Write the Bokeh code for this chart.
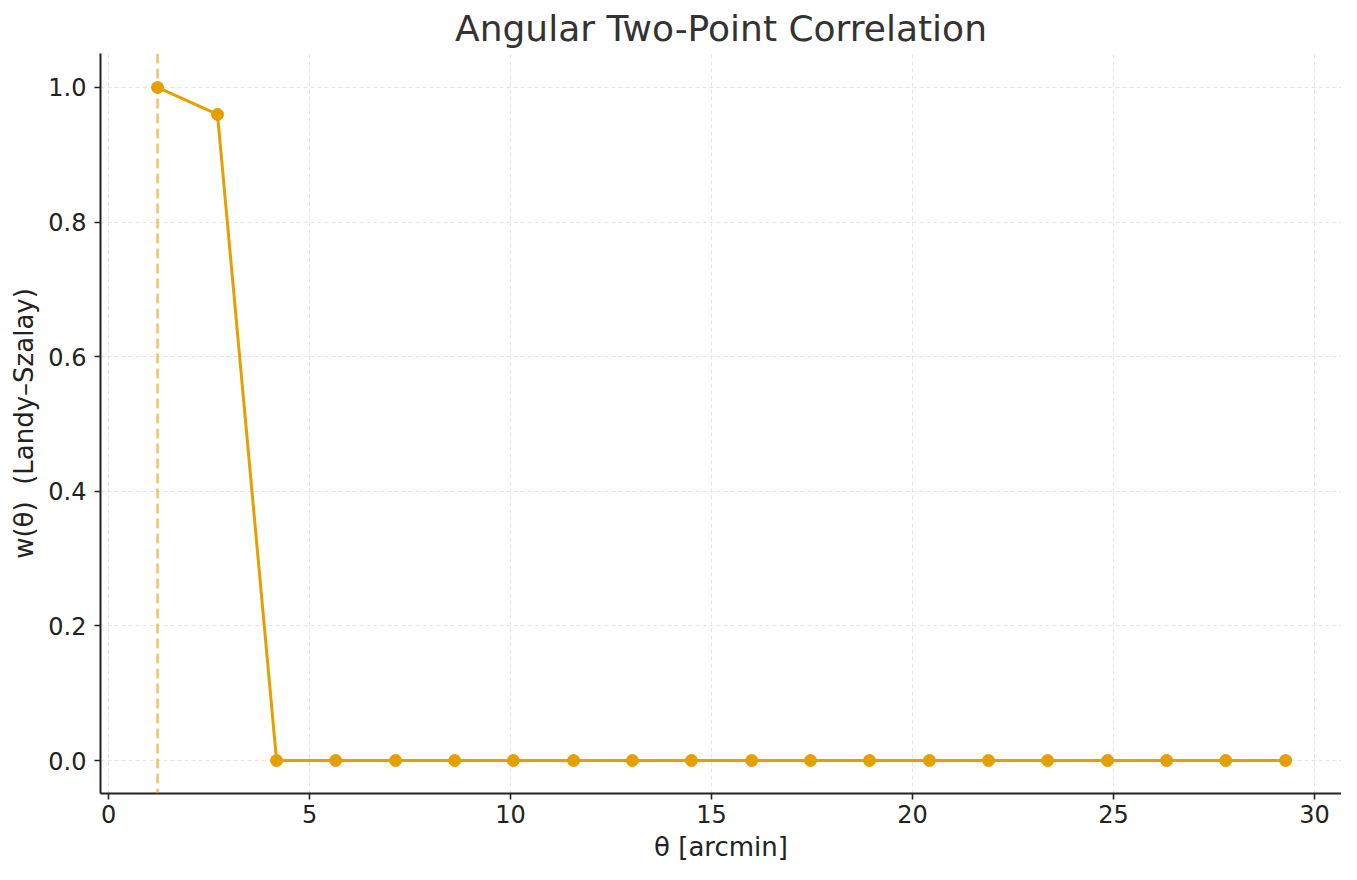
from bokeh.plotting import figure
from bokeh.models import ColumnDataSource, Span, FixedTicker, PrintfTickFormatter, Range1d
from bokeh.embed import file_html
from bokeh.resources import INLINE

# bin centres (arcmin) and w(theta) values
theta = [1.22, 2.71, 4.18, 5.65, 7.14, 8.61, 10.07, 11.57, 13.03, 14.50,
         16.00, 17.46, 18.93, 20.42, 21.89, 23.36, 24.85, 26.32, 27.79, 29.28]
w_theta = [1.0, 0.96, 0.0, 0.0, 0.0, 0.0, 0.0, 0.0, 0.0, 0.0,
           0.0, 0.0, 0.0, 0.0, 0.0, 0.0, 0.0, 0.0, 0.0, 0.0]
marker_theta = 1.22
x_ticks = [0, 5, 10, 15, 20, 25, 30]
y_ticks = [0.0, 0.2, 0.4, 0.6, 0.8, 1.0]

FONT = "DejaVu Sans"
ORANGE = "#E69F00"

source = ColumnDataSource(data=dict(theta=theta, w=w_theta))

p = figure(width=1341, height=864, output_backend="svg", toolbar_location=None,
           title="Angular Two-Point Correlation",
           x_axis_label="θ [arcmin]", y_axis_label="w(θ)\u00a0 (Landy–Szalay)",
           x_range=Range1d(-0.2, 30.67), y_range=Range1d(-0.049, 1.0505),
           min_border_left=100, min_border_right=0, min_border_bottom=66, min_border_top=10)

p.title.text_font = FONT
p.title.text_font_size = "36px"
p.title.text_font_style = "normal"
p.title.text_color = "#333333"
p.title.align = "center"
p.title.offset = 0

# dashed marker at the first bin
p.add_layout(Span(location=marker_theta, dimension="height", line_color=ORANGE,
                  line_alpha=0.6, line_width=2.5, line_dash="10 5"))

p.line("theta", "w", source=source, line_color=ORANGE, line_width=3)
p.scatter("theta", "w", source=source, size=12, fill_color=ORANGE, line_color=ORANGE)

p.outline_line_color = None
for ax in (p.xaxis, p.yaxis):
    ax.axis_line_color = "#222222"
    ax.axis_line_width = 2
    ax.major_tick_line_color = "#222222"
    ax.major_tick_line_width = 1.6
    ax.major_tick_out = 6
    ax.major_tick_in = 0
    ax.minor_tick_line_color = None
    ax.major_label_text_font = FONT
    ax.major_label_text_font_size = "24px"
    ax.major_label_text_color = "#222222"
    ax.axis_label_text_font = FONT
    ax.axis_label_text_font_size = "26px"
    ax.axis_label_text_font_style = "normal"
    ax.axis_label_text_color = "#222222"
    ax.axis_label_standoff = 6

p.xaxis.ticker = FixedTicker(ticks=x_ticks)
p.yaxis.ticker = FixedTicker(ticks=y_ticks)
p.yaxis.formatter = PrintfTickFormatter(format="%.1f")
p.yaxis.major_label_standoff = 8

for g in (p.xgrid, p.ygrid):
    g.grid_line_color = "#e5e5e5"
    g.grid_line_dash = "4 3"
    g.grid_line_width = 1

open("out.html", "w").write(file_html(p, INLINE))
